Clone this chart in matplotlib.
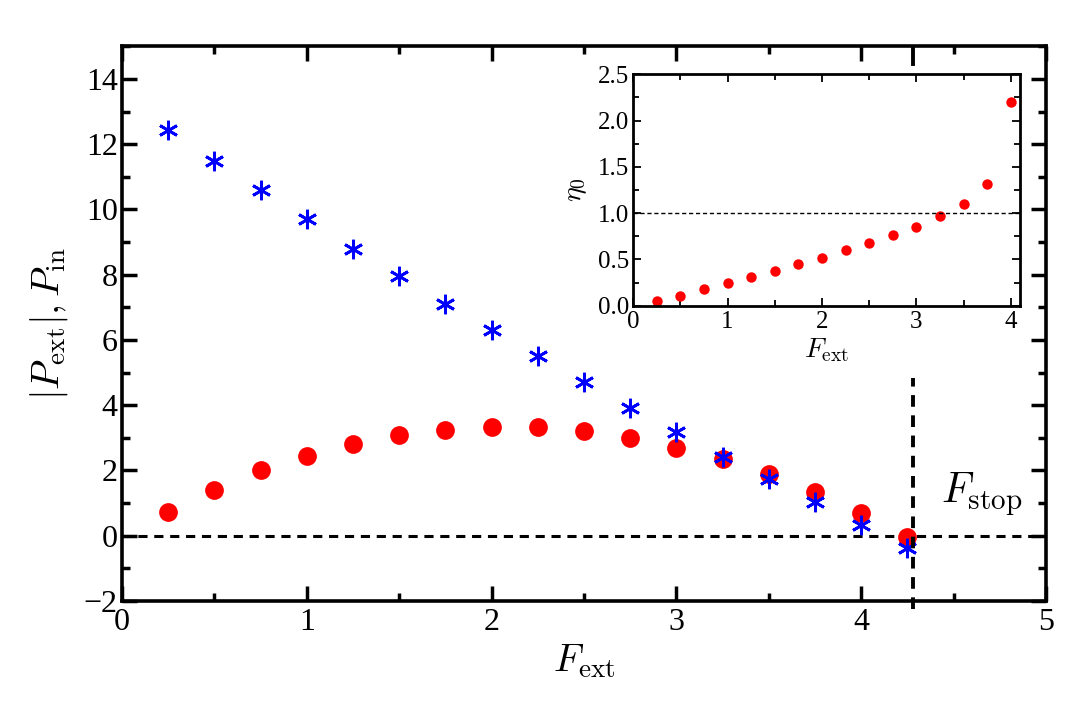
import numpy as np
import matplotlib
matplotlib.use("Agg")
import matplotlib.pyplot as plt
from matplotlib.ticker import MultipleLocator

# data
f_ext = [0.25, 0.5, 0.75, 1.0, 1.25, 1.5, 1.75, 2.0, 2.25, 2.5, 2.75, 3.0, 3.25, 3.5, 3.75, 4.0, 4.25]
p_in = [12.45, 11.5, 10.6, 9.7, 8.8, 7.95, 7.1, 6.3, 5.5, 4.7, 3.93, 3.19, 2.42, 1.74, 1.03, 0.33, -0.38]
p_ext = [0.72, 1.4, 2.0, 2.45, 2.82, 3.08, 3.25, 3.33, 3.32, 3.2, 3.0, 2.7, 2.34, 1.88, 1.34, 0.69, -0.04]

f_ext_inset = [0.25, 0.5, 0.75, 1.0, 1.25, 1.5, 1.75, 2.0, 2.25, 2.5, 2.75, 3.0, 3.25, 3.5, 3.75, 4.0]
eta0 = [0.05, 0.11, 0.18, 0.25, 0.31, 0.38, 0.45, 0.52, 0.60, 0.68, 0.76, 0.85, 0.97, 1.10, 1.32, 2.20]

f_stop = 4.28

plt.rcParams['font.family'] = ['Liberation Serif', 'DejaVu Serif']
plt.rcParams['mathtext.fontset'] = 'cm'

fig = plt.figure(figsize=(10.66, 7.2), dpi=100)
ax = fig.add_axes([0.1144, 0.1653, 0.8668, 0.7703])

# six-spoke asterisk with a vertical spoke
asterisk = (6, 2, 0)
ax.plot(f_ext, p_in, linestyle='none', marker=asterisk, markersize=14,
        markeredgewidth=2.0, color='#0000ff', zorder=3)
ax.plot(f_ext, p_ext, linestyle='none', marker='o', markersize=13.5,
        color='#ff0000', markeredgewidth=0, zorder=2)

ax.axhline(0, color='black', linestyle=(0, (3, 2.2)), linewidth=2.2, zorder=1)
# F_stop marker line (hidden behind the inset near the top)
ax.plot([f_stop, f_stop], [-2.25, 4.85], color='black', linestyle=(0, (3, 2.2)),
        linewidth=2.8, clip_on=False, zorder=4)
ax.plot([f_stop, f_stop], [14.45, 15.0], color='black', linewidth=2.8, zorder=4)

ax.text(4.43, 1.02, r'$F_{\rm stop}$', fontsize=30)

ax.set_xlim(0, 5)
ax.set_ylim(-2, 15)
ax.xaxis.set_major_locator(MultipleLocator(1))
ax.xaxis.set_minor_locator(MultipleLocator(0.5))
ax.yaxis.set_major_locator(MultipleLocator(2))
ax.yaxis.set_minor_locator(MultipleLocator(1))
ax.tick_params(which='both', direction='in', top=True, right=True, width=2.5)
ax.tick_params(which='major', length=11, labelsize=23, pad=3)
ax.tick_params(axis='x', which='major', pad=5)
ax.tick_params(which='minor', length=5.5)
for s in ax.spines.values():
    s.set_linewidth(2.6)
ax.set_yticklabels([f'{int(v)}' if v >= 0 else f'\u2212{int(-v)}' for v in ax.get_yticks()])

ax.set_xlabel(r'$F_{\rm ext}$', fontsize=28, labelpad=4)
ax.set_ylabel(r'$|P_{\rm ext}|,P_{\rm in}$', fontsize=28, labelpad=10)

# inset
ins = fig.add_axes([0.594, 0.5754, 0.363, 0.3214])
ins.plot(f_ext_inset, eta0, linestyle='none', marker='o', markersize=7.5,
         color='#ff0000', markeredgewidth=0)
ins.axhline(1.0, color='black', linestyle=(0, (3, 2)), linewidth=1.0)
ins.set_xlim(0, 4.1)
ins.set_ylim(0, 2.5)
ins.xaxis.set_major_locator(MultipleLocator(1))
ins.xaxis.set_minor_locator(MultipleLocator(0.5))
ins.yaxis.set_major_locator(MultipleLocator(0.5))
ins.yaxis.set_minor_locator(MultipleLocator(0.25))
ins.tick_params(which='both', direction='in', top=True, right=True, width=1.3)
ins.tick_params(which='major', length=6, labelsize=18)
ins.tick_params(axis='x', which='major', pad=4)
ins.tick_params(axis='y', which='major', pad=3)
ins.tick_params(which='minor', length=4)
ins.set_yticklabels([f'{v:.1f}' for v in ins.get_yticks()])
for s in ins.spines.values():
    s.set_linewidth(2.0)
ins.set_xlabel(r'$F_{\rm ext}$', fontsize=20, labelpad=2)
ins.set_ylabel(r'$\eta_0$', fontsize=20, labelpad=6)

fig.savefig('out.png', dpi=100)
